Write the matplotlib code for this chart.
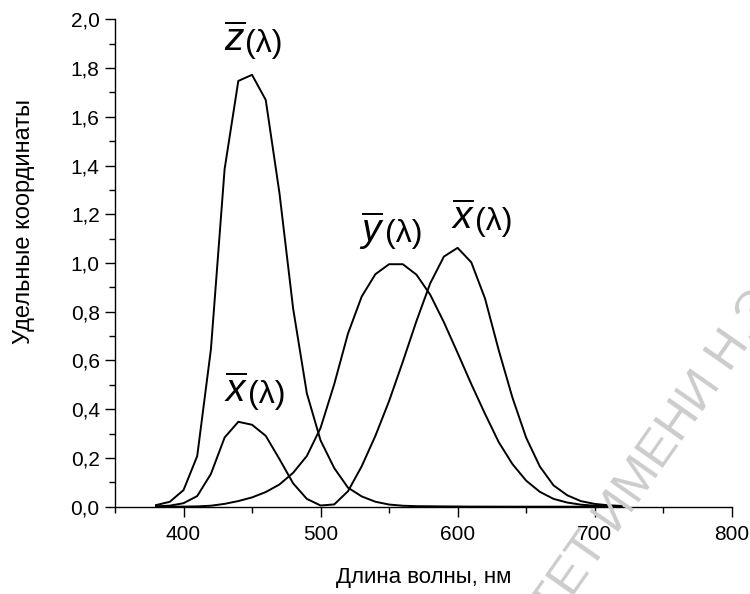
import matplotlib
matplotlib.use("Agg")
import matplotlib.pyplot as plt
from matplotlib.ticker import MultipleLocator, FuncFormatter

plt.rcParams["font.family"] = ["Liberation Sans", "DejaVu Sans"]
plt.rcParams["mathtext.fontset"] = "custom"
plt.rcParams["mathtext.rm"] = "Liberation Sans"
plt.rcParams["mathtext.it"] = "Liberation Sans:italic"

# CIE 1931 colour matching functions, 10 nm step
wavelength = [380, 390, 400, 410, 420, 430, 440, 450, 460, 470, 480, 490,
              500, 510, 520, 530, 540, 550, 560, 570, 580, 590, 600, 610,
              620, 630, 640, 650, 660, 670, 680, 690, 700, 710, 720]
x_bar = [0.0014, 0.0042, 0.0143, 0.0435, 0.1344, 0.2839, 0.3483, 0.3362,
         0.2908, 0.1954, 0.0956, 0.0320, 0.0049, 0.0093, 0.0633, 0.1655,
         0.2904, 0.4334, 0.5945, 0.7621, 0.9163, 1.0263, 1.0622, 1.0026,
         0.8544, 0.6424, 0.4479, 0.2835, 0.1649, 0.0874, 0.0468, 0.0227,
         0.0114, 0.0058, 0.0029]
y_bar = [0.0000, 0.0001, 0.0004, 0.0012, 0.0040, 0.0116, 0.0230, 0.0380,
         0.0600, 0.0910, 0.1390, 0.2080, 0.3230, 0.5030, 0.7100, 0.8620,
         0.9540, 0.9950, 0.9950, 0.9520, 0.8700, 0.7570, 0.6310, 0.5030,
         0.3810, 0.2650, 0.1750, 0.1070, 0.0610, 0.0320, 0.0170, 0.0082,
         0.0041, 0.0021, 0.0010]
z_bar = [0.0065, 0.0201, 0.0679, 0.2074, 0.6456, 1.3856, 1.7471, 1.7721,
         1.6692, 1.2876, 0.8130, 0.4652, 0.2720, 0.1582, 0.0782, 0.0422,
         0.0203, 0.0088, 0.0039, 0.0021, 0.0017, 0.0011, 0.0008, 0.0003,
         0.0002, 0.0001, 0.0000, 0.0000, 0.0000, 0.0000, 0.0000, 0.0000,
         0.0000, 0.0000, 0.0000]

# curve labels: (letter, x, y)
labels = [("z", 445, 1.91), ("x", 447, 0.47), ("y", 547, 1.13), ("x", 613, 1.18)]

fig = plt.figure(figsize=(7.5, 5.94), dpi=100)
ax = fig.add_axes([0.1533, 0.147, 0.8223, 0.8205])

for values in (x_bar, y_bar, z_bar):
    ax.plot(wavelength, values, color="black", lw=1.4)

ax.set_xlim(350, 800)
ax.set_ylim(0, 2.0)
ax.xaxis.set_major_locator(MultipleLocator(100))
ax.xaxis.set_minor_locator(MultipleLocator(50))
ax.yaxis.set_major_locator(MultipleLocator(0.2))
ax.yaxis.set_minor_locator(MultipleLocator(0.1))
ax.yaxis.set_major_formatter(FuncFormatter(lambda v, p: f"{v:.1f}".replace(".", ",")))
ax.xaxis.set_major_formatter(FuncFormatter(lambda v, p: "" if v < 400 else f"{v:.0f}"))

for side in ("top", "right"):
    ax.spines[side].set_visible(False)
for side in ("left", "bottom"):
    ax.spines[side].set_linewidth(1.0)
ax.tick_params(which="major", direction="out", length=7, width=1.0, labelsize=15)
ax.tick_params(which="minor", direction="out", length=4, width=1.0)
ax.tick_params(axis="x", pad=6)
ax.tick_params(axis="y", pad=4)

ax.set_xlabel("Длина волны, нм", fontsize=16, labelpad=17)
ax.set_ylabel("Удельные координаты", fontsize=17, va="center")
ax.yaxis.set_label_coords(-0.148, 0.586)

for letter, lx, ly in labels:
    ax.text(lx, ly, rf"$\overline{{{letter}}}$", fontsize=28, ha="right", va="center")
    ax.text(lx, ly - 0.01, "(λ)", fontsize=23, ha="left", va="center")

# watermark
fig.text(0.815, 0.125, "ВЕРСИТЕТ ИМЕНИ Н.Э.", fontsize=36, color="#cccccc",
         rotation=55, ha="center", va="center", zorder=0)

fig.savefig("out.png", dpi=100)
